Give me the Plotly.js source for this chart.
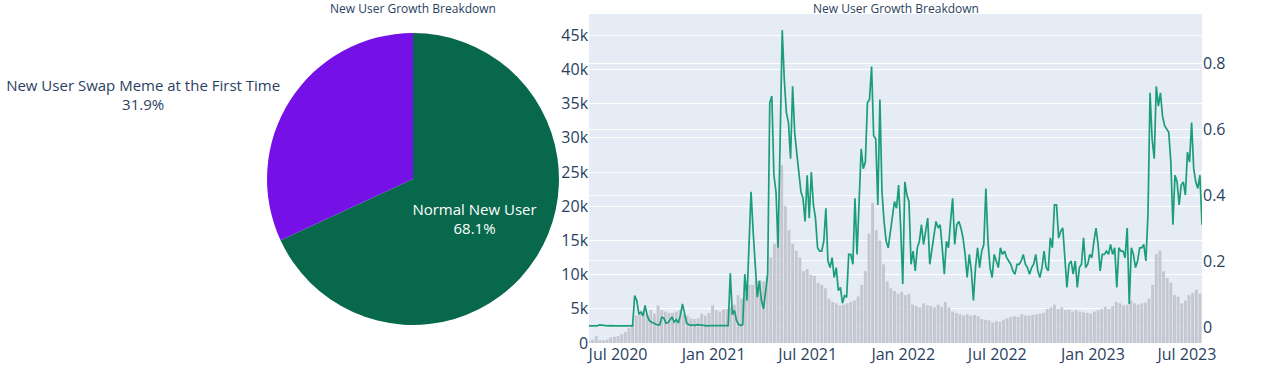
<!DOCTYPE html>
<html>
<head>
<meta charset="utf-8">
<script src="https://cdn.plot.ly/plotly-3.0.1.min.js"></script>
<style>html,body{margin:0;padding:0;background:#fff;}</style>
</head>
<body>
<div id="chart" style="width:1280px;height:368px;"></div>
<script>
// ---- Pie data ----
const pieLabels = ['Normal New User', 'New User Swap Meme at the First Time'];
const pieValues = [68.1, 31.9];
const pieColors = ['#08684c', '#7510e6'];

// ---- Time series: ratio line (every 4 days from 2020-05-06) ----
const ratioStart = '2020-05-06';
const ratioStepDays = 4;
const ratio = [
  0.003,0.003,0.003,0.003,0.003,0.006,0.005,0.004,0.005,0.003,
  0.004,0.003,0.003,0.003,0.003,0.003,0.003,0.003,0.003,0.003,
  0.003,0.003,0.095,0.080,0.040,0.045,0.034,0.065,0.035,0.020,
  0.015,0.012,0.008,0.006,0.006,0.029,0.027,0.012,0.013,0.020,
  0.030,0.015,0.022,0.012,0.035,0.070,0.035,0.012,0.007,0.005,
  0.006,0.004,0.007,0.006,0.004,0.004,0.004,0.003,0.004,0.004,
  0.004,0.003,0.004,0.004,0.004,0.003,0.004,0.004,0.163,0.037,
  0.050,0.020,0.008,0.004,0.007,0.160,0.080,0.277,0.410,0.290,
  0.170,0.090,0.140,0.080,0.055,0.110,0.160,0.680,0.700,0.460,
  0.410,0.240,0.600,0.900,0.750,0.650,0.620,0.510,0.730,
  0.590,0.527,0.470,0.410,0.390,0.320,0.460,0.330,0.470,0.370,
  0.330,0.240,0.230,0.230,0.260,0.360,0.200,0.180,0.210,0.150,
  0.180,0.110,0.120,0.072,0.095,0.090,0.220,0.220,0.190,0.390,
  0.220,0.400,0.540,0.480,0.500,0.680,0.690,0.790,0.580,0.570,
  0.370,0.690,0.410,0.320,0.260,0.240,0.290,0.330,0.380,0.360,
  0.430,0.300,0.130,0.440,0.400,0.380,0.190,0.230,0.170,0.240,
  0.260,0.310,0.250,0.290,0.330,0.190,0.230,0.270,0.320,0.300,
  0.310,0.240,0.160,0.260,0.240,0.320,0.390,0.250,0.310,0.320,
  0.300,0.270,0.220,0.150,0.220,0.170,0.080,0.180,0.240,0.180,
  0.230,0.250,0.420,0.260,0.180,0.150,0.220,0.200,0.180,
  0.240,0.220,0.230,0.210,0.200,0.190,0.170,0.160,0.190,0.190,
  0.200,0.220,0.190,0.180,0.160,0.180,0.190,0.220,0.170,0.150,
  0.180,0.230,0.180,0.170,0.270,0.240,0.370,0.370,0.270,0.290,
  0.300,0.220,0.120,0.190,0.200,0.160,0.200,0.120,0.180,0.190,
  0.270,0.180,0.190,0.220,0.210,0.260,0.300,0.250,0.170,0.220,
  0.220,0.230,0.220,0.250,0.220,0.240,0.120,0.240,0.230,0.230,
  0.210,0.300,0.070,0.240,0.220,0.180,0.200,0.240,0.240,0.250,
  0.200,0.340,0.710,0.570,0.510,0.730,0.670,0.710,0.640,0.610,
  0.600,0.590,0.500,0.310,0.460,0.440,0.370,0.430,0.440,0.400,
  0.530,0.500,0.620,0.480,0.440,0.420,0.460,0.310
];

// ---- Time series: new users bars (weekly from 2020-05-06) ----
const usersStart = '2020-05-06';
const usersStepDays = 7;
const newUsers = [
  300,500,1000,400,400,500,800,900,1000,1300,
  1600,2200,2800,4000,4500,4600,4200,4800,4300,5500,
  4800,4600,4400,4400,4600,4800,4200,4000,3600,3500,
  3600,4300,4000,4400,5500,4800,4600,4900,5000,5300,
  5600,7000,6500,7200,8500,8500,9000,9200,9000,9800,
  12500,14500,17000,26000,20000,16500,14500,
  13500,12500,10500,10800,10000,9800,8800,8500,8000,6500,
  6000,5800,5500,5600,5800,6000,6200,6800,8500,10500,
  16000,20500,16500,15000,11500,9000,8000,7600,7200,7500,
  7000,7200,5600,5400,5200,5800,5500,5400,5200,5600,
  5300,6000,5200,4600,4400,4200,4000,4200,4000,4100,
  3900,3500,3400,3300,3000,3200,
  3100,3400,3600,3800,3900,3800,4200,4000,4000,4100,
  4200,4300,4400,5000,5200,5600,5000,5200,4800,4900,
  4600,4800,4600,4500,4400,4300,4600,4800,5000,5300,
  5000,5400,6000,5800,5500,5600,6200,5800,5600,5800,
  5900,6500,8500,13000,13500,10500,9500,8800,7000,6800,
  5800,6200,7000,7300,7800,7200
];

function dateSeries(start, stepDays, n) {
  const t0 = Date.parse(start + 'T00:00:00Z');
  const out = [];
  for (let i = 0; i < n; i++) {
    out.push(new Date(t0 + i * stepDays * 86400000).toISOString().slice(0, 10));
  }
  return out;
}
const ratioDates = dateSeries(ratioStart, ratioStepDays, ratio.length);
const userDates = dateSeries(usersStart, usersStepDays, newUsers.length);

const titleText = 'New User Growth Breakdown';

const traces = [
  {
    type: 'pie',
    labels: pieLabels,
    values: pieValues,
    sort: false,
    direction: 'counterclockwise',
    marker: { colors: pieColors },
    textinfo: 'label+percent',
    textfont: { size: 15 },
    domain: { x: [0.1667, 0.4269], y: [0.0547, 0.9422] },
    showlegend: false
  },
  {
    type: 'bar',
    x: userDates,
    y: newUsers,
    xaxis: 'x',
    yaxis: 'y',
    marker: { color: 'rgb(196,199,207)' },
    showlegend: false
  },
  {
    type: 'scatter',
    mode: 'lines',
    x: ratioDates,
    y: ratio,
    xaxis: 'x',
    yaxis: 'y2',
    line: { color: '#1b9e77', width: 1.7 },
    showlegend: false
  }
];

const layout = {
  width: 1280,
  height: 368,
  margin: { l: 80, r: 78, t: 14, b: 25 },
  paper_bgcolor: 'white',
  plot_bgcolor: '#E5ECF6',
  font: { family: '"Open Sans", verdana, arial, sans-serif', size: 16, color: '#2a3f5f' },
  showlegend: false,
  bargap: 0.2,
  xaxis: {
    domain: [0.4537, 1],
    type: 'date',
    range: ['2020-05-06 04:00', '2023-07-30'],
    showgrid: false,
    dtick: 'M6',
    tick0: '2020-01-01',
    tickformat: '%b %Y',
    ticks: '',
    anchor: 'y'
  },
  yaxis: {
    range: [0, 48100],
    gridcolor: 'white',
    zerolinecolor: 'white',
    dtick: 5000,
    anchor: 'x'
  },
  yaxis2: {
    overlaying: 'y',
    side: 'right',
    range: [-0.0487, 0.949],
    gridcolor: 'white',
    zerolinecolor: 'white',
    dtick: 0.2,
    anchor: 'x'
  },
  annotations: [
    { text: titleText, x: 0.2968, y: 1.018, xref: 'paper', yref: 'paper',
      xanchor: 'center', yanchor: 'middle', showarrow: false, font: { size: 12 } },
    { text: titleText, x: 0.72685, y: 1.018, xref: 'paper', yref: 'paper',
      xanchor: 'center', yanchor: 'middle', showarrow: false, font: { size: 12 } }
  ]
};

Plotly.newPlot('chart', traces, layout, { displayModeBar: false, staticPlot: true });
</script>
</body>
</html>
